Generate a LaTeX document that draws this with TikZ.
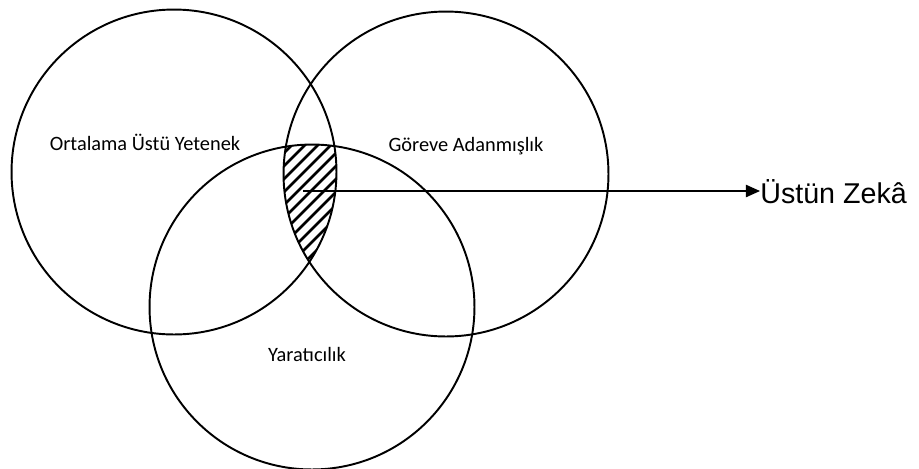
\documentclass[tikz,border=0pt]{standalone}
\usepackage{fontspec}
\setmainfont{Carlito}
\newfontfamily\arialfont{Liberation Sans}
\usetikzlibrary{arrows.meta, positioning}

\begin{document}
\begin{tikzpicture}[
        x=0.02cm, y=-0.02cm,
        set/.style={circle, draw, line width=1.1pt, minimum size=6.5cm, inner sep=0pt},
        settext/.style={font=\fontsize{11.6}{13}\selectfont, inner sep=0pt},
        hatch/.style={line width=1.5pt},
        arrow/.style={line width=0.75pt, -{Triangle[length=8pt, width=7pt]}}
    ]
        \useasboundingbox (0,0) rectangle (919,468);

        % three sets
        \node (ability) [set] at (174,172) {};
        \node (task) [set] at (446,174) {};
        \node (creative) [set] at (312,307) {};

        % hatched common part
        \begin{scope}
            \clip (ability.center) circle (3.25cm);
            \clip (task.center) circle (3.25cm);
            \clip (creative.center) circle (3.25cm);
            \foreach \c in {424,437,...,590}
                \draw [hatch] (\c-140,140) -- (\c-270,270);
        \end{scope}

        \node (abilitytxt) [settext] at (145,142) {Ortalama Üstü Yetenek};
        \node (tasktxt) [settext] at (466,146) {Göreve Adanmışlık};
        \node (creativetxt) [settext] at (307,354) {Yaratıcılık};

        \coordinate (from) at (303,191);
        \node (gifted) [anchor=base west, inner sep=0pt, font=\arialfont\fontsize{16.3}{19}\selectfont] at (760,203) {Üstün Zekâ};

        \draw [arrow] (from) -- (from -| gifted.west);
    \end{tikzpicture}
\end{document}
